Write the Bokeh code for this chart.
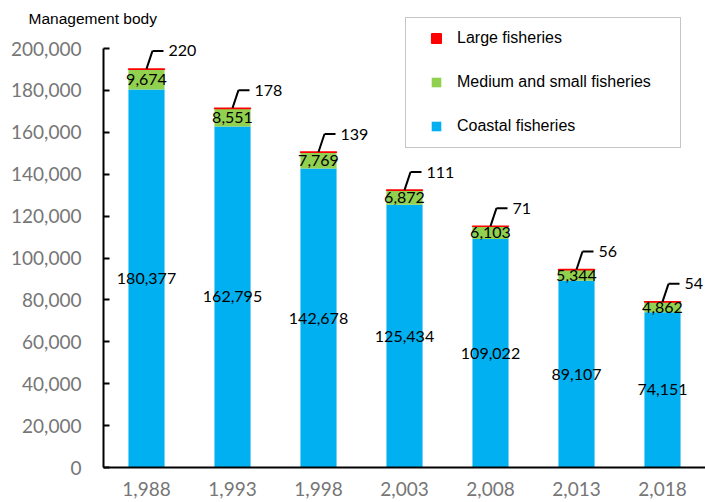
from bokeh.plotting import figure
from bokeh.models import (ColumnDataSource, FactorRange, Range1d, Legend, LegendItem,
                          FixedTicker, NumeralTickFormatter, BoxAnnotation)
from bokeh.transform import dodge
from bokeh.core.properties import value
from bokeh.embed import file_html
from bokeh.resources import INLINE

# Management bodies by fishery type, census years
years = ["1,988", "1,993", "1,998", "2,003", "2,008", "2,013", "2,018"]
coastal = [180377, 162795, 142678, 125434, 109022, 89107, 74151]
medium = [9674, 8551, 7769, 6872, 6103, 5344, 4862]
large = [220, 178, 139, 111, 71, 56, 54]
y_ticks = [0, 20000, 40000, 60000, 80000, 100000, 120000, 140000, 160000, 180000, 200000]

series_names = ["Coastal fisheries", "Medium and small fisheries", "Large fisheries"]
colors = ["#00B0F0", "#92D050", "#FF0000"]

# canvas geometry (pixels from the top-left corner)
W, H = 705, 502
LEFT = 103
FRAME_TOP = 12
FRAME_BOTTOM = 467
AXIS_TOP_PX = 48  # where the top tick (200,000) sits
FRAME_H = FRAME_BOTTOM - FRAME_TOP
y_top = max(y_ticks) * FRAME_H / (FRAME_BOTTOM - AXIS_TOP_PX)
units_per_px = y_top / FRAME_H
cat_px = (W - LEFT) / len(years)


def sy(canvas_y):
    """Screen y measured up from the frame bottom."""
    return FRAME_BOTTOM - canvas_y


def sx(canvas_x):
    """Screen x measured from the frame's left edge."""
    return canvas_x - LEFT


totals = [c + m + l for c, m, l in zip(coastal, medium, large)]
rise = 18 * units_per_px

src = ColumnDataSource(dict(
    years=years,
    coastal=coastal,
    medium=medium,
    large=large,
    coastal_mid=[c / 2 for c in coastal],
    medium_mid=[c + m / 2 for c, m in zip(coastal, medium)],
    total=totals,
    lead_y=[t + rise for t in totals],
    coastal_txt=[f"{v:,}" for v in coastal],
    medium_txt=[f"{v:,}" for v in medium],
    large_txt=[f"{v:,}" for v in large],
))

p = figure(x_range=FactorRange(factors=years), y_range=Range1d(0, y_top),
           width=W, height=H, output_backend="svg", toolbar_location=None,
           title="Management body",
           min_border_left=LEFT, min_border_right=0, min_border_top=FRAME_TOP,
           min_border_bottom=H - FRAME_BOTTOM)
p.outline_line_color = None
p.xgrid.visible = False
p.ygrid.visible = False
p.background_fill_color = "white"
p.border_fill_color = "white"

# unit caption, pulled left over the tick labels
p.title.align = "left"
p.title.offset = 28 - LEFT
p.title.standoff = -29
p.title.vertical_align = "bottom"
p.title.text_font = "Liberation Sans"
p.title.text_font_style = "normal"
p.title.text_font_size = "15.5px"
p.title.text_color = "black"

bars = p.vbar_stack(["coastal", "medium", "large"], x="years", width=0.42,
                    color=colors, line_color=None, source=src)
# the thin top segment gets an outline in its own colour so it stays visible
bars[2].glyph.line_color = colors[2]
bars[2].glyph.line_width = 1.5

# value labels
num_font = value("Lato")
p.text(x="years", y="coastal_mid", text="coastal_txt", source=src,
       text_font=num_font, text_font_size="16px", text_color="black",
       text_align="center", text_baseline="middle")
p.text(x="years", y="medium_mid", text="medium_txt", source=src,
       text_font=num_font, text_font_size="16px", text_color="black",
       text_align="center", text_baseline="middle")

# leader lines for the large-fishery values
d1 = 6 / cat_px
d2 = 17 / cat_px
p.segment(x0="years", y0="total", x1=dodge("years", d1, range=p.x_range), y1="lead_y",
          source=src, line_color="black", line_width=2)
p.segment(x0=dodge("years", d1, range=p.x_range), y0="lead_y",
          x1=dodge("years", d2, range=p.x_range), y1="lead_y",
          source=src, line_color="black", line_width=2)
p.text(x=dodge("years", d2, range=p.x_range), y="lead_y", text="large_txt", source=src,
       x_offset=5, text_font=num_font, text_font_size="16px", text_color="black",
       text_align="left", text_baseline="middle")

# axes
tick_color = "#767676"
p.yaxis.ticker = FixedTicker(ticks=y_ticks)
p.yaxis.formatter = NumeralTickFormatter(format="0,0")
p.yaxis.bounds = (0, max(y_ticks))
p.yaxis.axis_line_color = "black"
p.yaxis.axis_line_width = 2
p.yaxis.major_tick_in = 6
p.yaxis.major_tick_out = 0
p.yaxis.major_tick_line_color = "black"
p.yaxis.major_tick_line_width = 2
p.yaxis.minor_tick_line_color = None
p.yaxis.major_label_standoff = 22
p.yaxis.major_label_text_font = "Lato"
p.yaxis.major_label_text_font_size = "19px"
p.yaxis.major_label_text_color = tick_color

p.xaxis.axis_line_color = "black"
p.xaxis.axis_line_width = 2
p.xaxis.major_tick_line_color = None
p.xaxis.major_tick_in = 0
p.xaxis.major_tick_out = 0
p.xaxis.major_label_standoff = 14
p.xaxis.major_label_text_font = "Lato"
p.xaxis.major_label_text_font_size = "19px"
p.xaxis.major_label_text_color = tick_color

# legend frame and entries
p.add_layout(BoxAnnotation(left=sx(405), right=sx(680), top=sy(17), bottom=sy(147),
                           left_units="screen", right_units="screen",
                           top_units="screen", bottom_units="screen",
                           fill_color="white", fill_alpha=1.0,
                           line_color="#404040", line_width=1))
items = [LegendItem(label=series_names[i], renderers=[bars[i]]) for i in (2, 1, 0)]
legend = Legend(items=items, location=(sx(430), sy(135)),
                border_line_color=None, background_fill_alpha=0,
                padding=0, margin=0, spacing=26,
                glyph_width=12, glyph_height=12, label_height=12,
                label_standoff=15, label_text_font="Liberation Sans",
                label_text_font_size="16px", label_text_color="black")
p.add_layout(legend)

open("out.html", "w").write(file_html(p, INLINE))
